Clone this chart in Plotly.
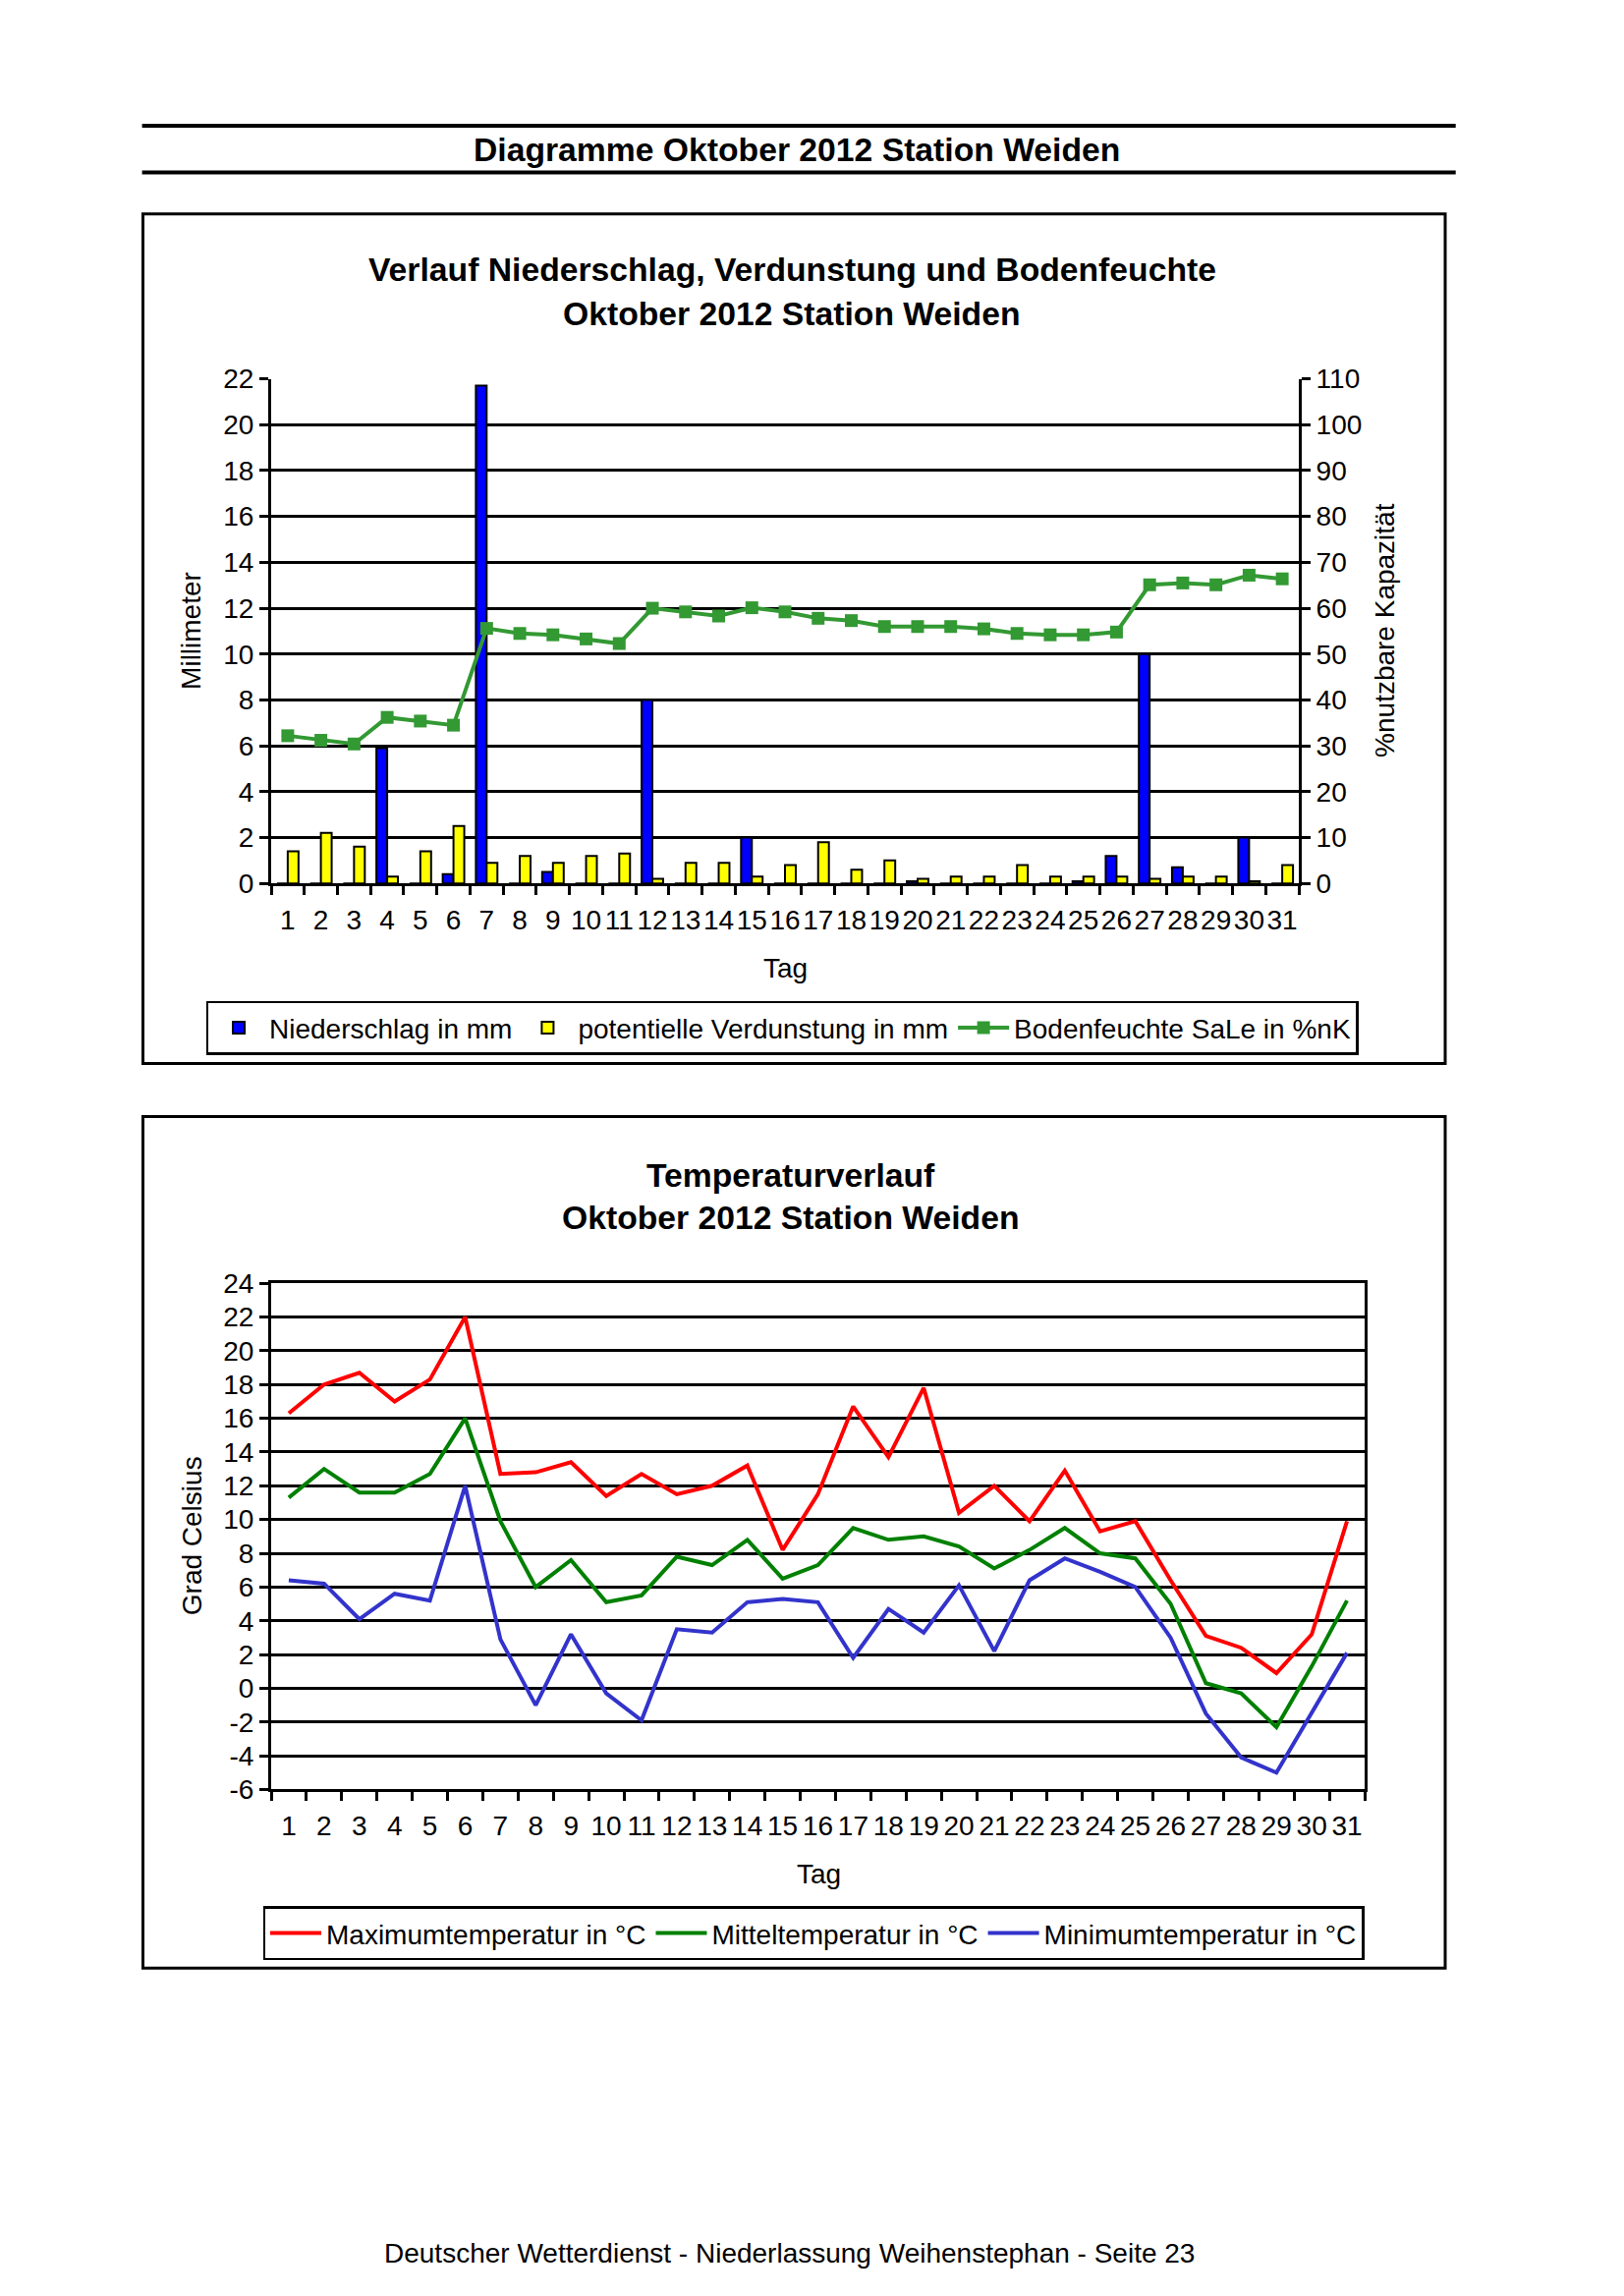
import plotly.graph_objects as go

# ---------------- data ----------------
tage = [str(d) for d in range(1, 32)]

niederschlag = [0, 0, 0, 5.9, 0, 0.4, 21.7, 0, 0.5, 0, 0, 8.0, 0, 0, 2.0, 0,
                0, 0, 0, 0.1, 0, 0, 0, 0, 0.1, 1.2, 10.0, 0.7, 0, 2.0, 0]
verdunstung = [1.4, 2.2, 1.6, 0.3, 1.4, 2.5, 0.9, 1.2, 0.9, 1.2, 1.3, 0.2, 0.9, 0.9, 0.3, 0.8,
               1.8, 0.6, 1.0, 0.2, 0.3, 0.3, 0.8, 0.3, 0.3, 0.3, 0.2, 0.3, 0.3, 0.1, 0.8]
bodenfeuchte = [32.2, 31.2, 30.4, 36.2, 35.4, 34.5, 55.6, 54.5, 54.2, 53.3, 52.3, 60.0, 59.2,
                58.3, 60.1, 59.2, 57.8, 57.3, 56.0, 56.0, 56.0, 55.5, 54.5, 54.2, 54.2, 54.8,
                65.1, 65.5, 65.1, 67.2, 66.4]

tmax = [16.3, 18.0, 18.7, 17.0, 18.3, 22.0, 12.7, 12.8, 13.4, 11.4, 12.7, 11.5, 12.0, 13.2,
        8.2, 11.5, 16.7, 13.7, 17.8, 10.4, 12.0, 9.9, 12.9, 9.3, 9.9, 6.4, 3.1, 2.4, 0.9, 3.2, 9.9]
tmit = [11.3, 13.0, 11.6, 11.6, 12.7, 16.0, 9.9, 6.0, 7.6, 5.1, 5.5, 7.8, 7.3, 8.8, 6.5, 7.3,
        9.5, 8.8, 9.0, 8.4, 7.1, 8.2, 9.5, 8.0, 7.7, 5.0, 0.3, -0.3, -2.3, 1.3, 5.2]
tmin = [6.4, 6.2, 4.1, 5.6, 5.2, 12.0, 2.9, -1.0, 3.2, -0.3, -1.9, 3.5, 3.3, 5.1, 5.3, 5.1,
        1.8, 4.7, 3.3, 6.1, 2.2, 6.4, 7.7, 6.9, 6.0, 3.0, -1.5, -4.1, -5.0, -1.4, 2.1]

mm_ticks = list(range(0, 23, 2))
pct_ticks = list(range(0, 111, 10))
temp_ticks = list(range(-6, 25, 2))
temp_ticklabels = [str(v) for v in temp_ticks]   # plain hyphen minus as in the original

# ---------------- layout helpers ----------------
W, H = 1653, 2337
FONT = "Liberation Sans, Arial, sans-serif"
FS = 28        # regular text
FT = 33.7      # bold titles
# the photographed page comes out slightly squeezed vertically; compensate
YS, Y0 = 0.9875, 13.6


def fx(x):
    return x / W


def fy(y):
    return 1 - ((y - Y0) / YS) / H


fig = go.Figure()

# top chart traces
fig.add_trace(go.Bar(x=tage, y=niederschlag, name="Niederschlag in mm",
                     marker=dict(color="#0000FF", line=dict(color="black", width=2)),
                     xaxis="x", yaxis="y", legend="legend"))
fig.add_trace(go.Bar(x=tage, y=verdunstung, name="potentielle Verdunstung in mm",
                     marker=dict(color="#FFFF00", line=dict(color="black", width=2)),
                     xaxis="x", yaxis="y", legend="legend"))
fig.add_trace(go.Scatter(x=tage, y=bodenfeuchte, name="Bodenfeuchte SaLe in %nK",
                         mode="lines+markers",
                         line=dict(color="#339933", width=4),
                         marker=dict(symbol="square", size=13, color="#339933"),
                         xaxis="x", yaxis="y2", legend="legend"))

# bottom chart traces
fig.add_trace(go.Scatter(x=tage, y=tmax, name="Maximumtemperatur in °C", mode="lines",
                         line=dict(color="#FF0000", width=4), xaxis="x2", yaxis="y3",
                         legend="legend2"))
fig.add_trace(go.Scatter(x=tage, y=tmit, name="Mitteltemperatur in °C", mode="lines",
                         line=dict(color="#008000", width=4), xaxis="x2", yaxis="y3",
                         legend="legend2"))
fig.add_trace(go.Scatter(x=tage, y=tmin, name="Minimumtemperatur in °C", mode="lines",
                         line=dict(color="#3333CC", width=4), xaxis="x2", yaxis="y3",
                         legend="legend2"))

tickfont = dict(family=FONT, size=FS, color="black")
axis_common = dict(showline=True, linecolor="black", linewidth=3, ticks="outside",
                   ticklen=9, tickwidth=3, tickcolor="black", tickfont=tickfont)
xcat_common = dict(type="category", tickson="boundaries", showgrid=False,
                   range=[-0.5, 30.5], tickangle=0, ticklabelstandoff=10,
                   tickmode="array", tickvals=tage, ticktext=tage)

legend_common = dict(xanchor="center", yanchor="middle", orientation="h",
                     bordercolor="black", borderwidth=2.5, bgcolor="white",
                     font=dict(family=FONT, size=FS, color="black"),
                     traceorder="normal", itemwidth=52)

fig.update_layout(
    width=W, height=H, autosize=False,
    margin=dict(l=0, r=0, t=0, b=0, pad=0),
    paper_bgcolor="white", plot_bgcolor="white",
    font=dict(family=FONT, color="black"),
    barmode="group", bargap=0.35, bargroupgap=0,
    xaxis=dict(domain=[fx(276), fx(1322)], anchor="y", **xcat_common, **axis_common),
    yaxis=dict(domain=[fy(898.5), fy(384.5)], anchor="x", range=[0, 22],
               tickmode="array", tickvals=mm_ticks,
               showgrid=True, gridcolor="black", gridwidth=3, zeroline=False,
               **axis_common),
    yaxis2=dict(overlaying="y", side="right", anchor="x", range=[0, 110],
                tickmode="array", tickvals=pct_ticks,
                showgrid=False, zeroline=False, **axis_common),
    xaxis2=dict(domain=[fx(276), fx(1389)], anchor="y3", mirror=True,
                **xcat_common, **axis_common),
    yaxis3=dict(domain=[fy(1821.5), fy(1305.8)], anchor="x2", range=[-6, 24],
                tickmode="array", tickvals=temp_ticks, ticktext=temp_ticklabels,
                showgrid=True, gridcolor="black", gridwidth=3, zeroline=False,
                mirror=True, **axis_common),
    legend=dict(x=fx(796), y=fy(1045.7), **legend_common),
    legend2=dict(x=fx(828), y=fy(1968), **legend_common),
)

# frames and header lines
shapes = [
    dict(type="line", xref="paper", yref="paper", x0=fx(144.6), x1=fx(1481.7),
         y0=fy(126.7), y1=fy(126.7), line=dict(color="black", width=4)),
    dict(type="line", xref="paper", yref="paper", x0=fx(144.6), x1=fx(1481.7),
         y0=fy(174.2), y1=fy(174.2), line=dict(color="black", width=4)),
    dict(type="rect", xref="paper", yref="paper", x0=fx(145.5), x1=fx(1471),
         y0=fy(1082), y1=fy(216.5), line=dict(color="black", width=3)),
    dict(type="rect", xref="paper", yref="paper", x0=fx(145.5), x1=fx(1471),
         y0=fy(2003.5), y1=fy(1136), line=dict(color="black", width=3)),
]
fig.update_layout(shapes=shapes)


def ann(text, x, y, size=FS, angle=0):
    fig.add_annotation(text=text, x=fx(x), y=fy(y), xref="paper", yref="paper",
                       showarrow=False, xanchor="center", yanchor="middle",
                       textangle=angle, font=dict(family=FONT, size=size, color="black"))


ann("<b>Diagramme Oktober 2012 Station Weiden</b>", 811, 150.5, size=FT)
ann("<b>Verlauf Niederschlag, Verdunstung und Bodenfeuchte</b>", 806, 273, size=FT)
ann("<b>Oktober 2012 Station Weiden</b>", 806, 317.5, size=FT)
ann("<b>Temperaturverlauf</b>", 805, 1195.5, size=FT)
ann("<b>Oktober 2012 Station Weiden</b>", 805, 1238.7, size=FT)
ann("Millimeter", 195, 641, angle=-90)
ann("%nutzbare Kapazität", 1410, 641, angle=-90)
ann("Grad Celsius", 195, 1563, angle=-90)
ann("Tag", 799, 985)
ann("Tag", 833, 1908)
ann("Deutscher Wetterdienst - Niederlassung Weihenstephan - Seite 23", 803, 2294)

fig.write_html(
    "out.html",
    config={"displayModeBar": False},
    post_script="document.documentElement.style.margin='0';"
                "document.body.style.margin='0';"
                "document.body.style.overflow='hidden';",
)
